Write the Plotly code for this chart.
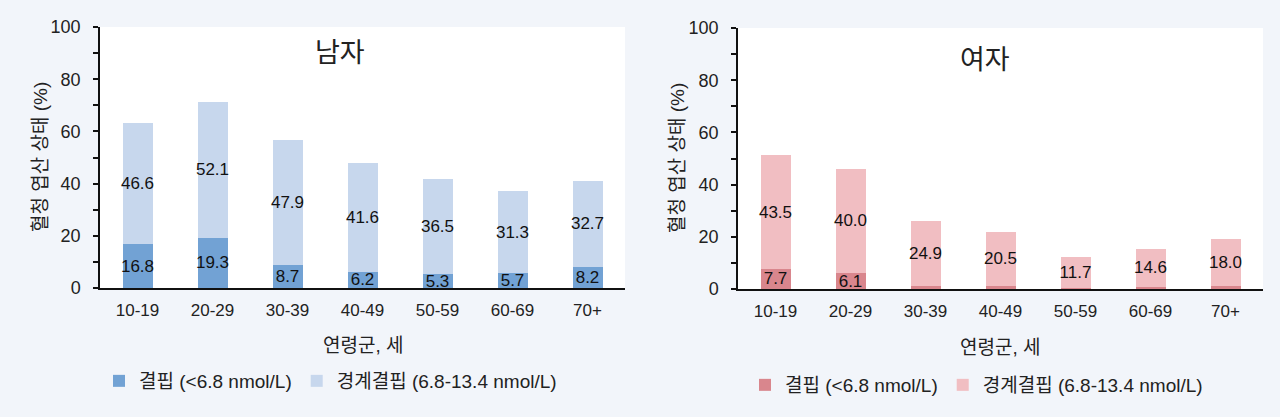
import plotly.graph_objects as go

categories = ["10-19", "20-29", "30-39", "40-49", "50-59", "60-69", "70+"]

male_deficient = [16.8, 19.3, 8.7, 6.2, 5.3, 5.7, 8.2]
male_marginal = [46.6, 52.1, 47.9, 41.6, 36.5, 31.3, 32.7]

female_deficient = [7.7, 6.1, 1.3, 1.3, 0.4, 0.8, 1.2]
female_deficient_labels = ["7.7", "6.1", "", "", "", "", ""]
female_marginal = [43.5, 40.0, 24.9, 20.5, 11.7, 14.6, 18.0]

name_def = "결핍 (<6.8 nmol/L)"
name_mar = "경계결핍 (6.8-13.4 nmol/L)"

FONT = "Liberation Sans, Arial, Noto Sans CJK KR"
BG = "#f2f5fa"
M_DARK, M_LIGHT = "#72a2d4", "#c7d7ed"
F_DARK, F_LIGHT = "#d9868d", "#f1bec2"

W, H = 1280, 417

def px_x(a, b):
    return [a / W, b / W]

def px_y(top, bottom):
    return [1 - bottom / H, 1 - top / H]

fig = go.Figure()

lbl_font = dict(family=FONT, size=17, color="#111")

def add_bar(x_ax, y_ax, vals, texts, name, color, legend):
    fig.add_trace(go.Bar(
        x=categories, y=vals, name=name, marker=dict(color=color, line=dict(width=0)),
        text=texts, textposition="inside", insidetextanchor="middle", textangle=0,
        constraintext="none", textfont=lbl_font, texttemplate="%{text}",
        xaxis=x_ax, yaxis=y_ax, legend=legend, hoverinfo="skip",
    ))

add_bar("x", "y", male_deficient, [f"{v:.1f}" for v in male_deficient], name_def, M_DARK, "legend")
add_bar("x", "y", male_marginal, [f"{v:.1f}" for v in male_marginal], name_mar, M_LIGHT, "legend")
add_bar("x2", "y2", female_deficient, female_deficient_labels, name_def, F_DARK, "legend2")
add_bar("x2", "y2", female_marginal, [f"{v:.1f}" for v in female_marginal], name_mar, F_LIGHT, "legend2")

xcommon = dict(
    showline=True, linecolor="#111", linewidth=2, ticks="", showgrid=False,
    tickfont=dict(family=FONT, size=17, color="#222"), ticklabelstandoff=6,
    fixedrange=True, automargin=False,
)
ycommon = dict(
    range=[0, 100], tickvals=[0, 20, 40, 60, 80, 100], showline=True, linecolor="#111",
    linewidth=1.5, ticks="outside", ticklen=5, tickwidth=1.5, tickcolor="#111",
    minor=dict(tickvals=[10, 30, 50, 70, 90], ticks="outside", ticklen=5, tickwidth=1.5, tickcolor="#111"),
    showgrid=False, zeroline=False,
    tickfont=dict(family=FONT, size=18, color="#222"), ticklabelstandoff=9,
    fixedrange=True, automargin=False,
)

legend_font = dict(family=FONT, size=19, color="#222")

fig.update_layout(
    width=W, height=H, margin=dict(l=0, r=0, t=0, b=0, autoexpand=False),
    paper_bgcolor=BG, plot_bgcolor="white",
    barmode="stack", bargap=0.6,
    showlegend=True,
    xaxis=dict(domain=px_x(100, 625), anchor="y", **xcommon),
    yaxis=dict(domain=px_y(27, 288), anchor="x", **ycommon),
    xaxis2=dict(domain=px_x(738, 1263), anchor="y2", **xcommon),
    yaxis2=dict(domain=px_y(28, 289), anchor="x2", **ycommon),
    legend=dict(orientation="h", x=99 / W, xanchor="left", y=1 - 381 / H, yanchor="middle",
                font=legend_font, bgcolor="rgba(0,0,0,0)", traceorder="normal"),
    legend2=dict(orientation="h", x=745 / W, xanchor="left", y=1 - 385 / H, yanchor="middle",
                 font=legend_font, bgcolor="rgba(0,0,0,0)", traceorder="normal"),
)

ann_font = dict(family=FONT, size=19, color="#222")
annotations = [
    dict(text="남자", x=340 / W, y=1 - 53 / H, font=dict(family=FONT, size=27, color="#222")),
    dict(text="여자", x=985 / W, y=1 - 60 / H, font=dict(family=FONT, size=27, color="#222")),
    dict(text="연령군, 세", x=363 / W, y=1 - 345 / H, font=ann_font),
    dict(text="연령군, 세", x=1000 / W, y=1 - 347 / H, font=ann_font),
    dict(text="혈청 엽산 상태 (%)", x=40 / W, y=1 - 157 / H, textangle=-90, font=ann_font),
    dict(text="혈청 엽산 상태 (%)", x=677 / W, y=1 - 158 / H, textangle=-90, font=ann_font),
]
for a in annotations:
    a.update(xref="paper", yref="paper", showarrow=False, xanchor="center", yanchor="middle")
fig.update_layout(annotations=annotations)

fig.write_html(
    "out.html",
    config={"displayModeBar": False},
    post_script="document.body.style.margin='0';document.body.style.overflow='hidden';",
)
